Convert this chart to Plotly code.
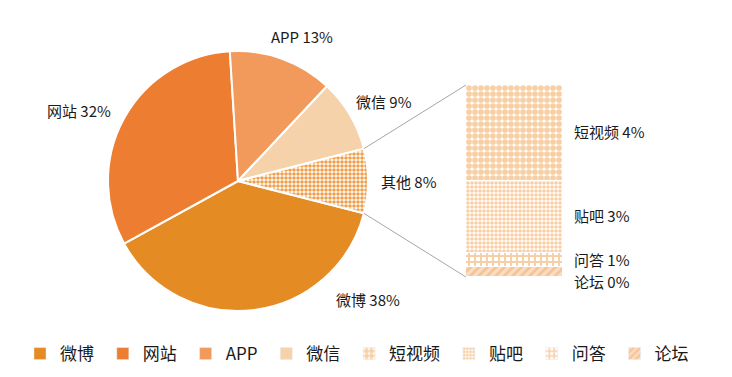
import math
import plotly.graph_objects as go

# ---------------- data ----------------
main_labels = ["微博", "网站", "APP", "微信", "其他"]
main_values = [38, 32, 13, 9, 8]
main_colors = ["#E48B23", "#ED7D31", "#F19A5C", "#F5D2A9"]

sub_labels = ["短视频", "贴吧", "问答", "论坛"]
sub_values = [4.0, 3.0, 0.6, 0.4]

FONT = "Noto Sans CJK SC"
W, H = 732, 377
OFF = 8  # page body margin
PAT = "#EFA04C"


def px2paper(x, y):
    return (x - OFF) / W, 1 - (y - OFF) / H


# ---------------- geometry (reference pixels) ----------------
cx, cy, R = 238, 181, 130
x0p, y1p = px2paper(cx - R, cy - R)
x1p, y0p = px2paper(cx + R, cy + R)
bar_left, bar_right, bar_top, bar_bottom = 466, 563, 85, 277
bx0, by1 = px2paper(bar_left, bar_top)
bx1, by0 = px2paper(bar_right, bar_bottom)

total = sum(main_values)
other_half = main_values[-1] / total * 360 / 2
rotation = 90 + other_half

fig = go.Figure()

fig.add_trace(go.Pie(
    labels=main_labels, values=main_values, sort=False, direction="clockwise",
    rotation=rotation, textinfo="none", hoverinfo="label+percent",
    showlegend=False,
    domain=dict(x=[x0p, x1p], y=[y0p, y1p]),
    marker=dict(colors=main_colors + ["white"],
                line=dict(color="white", width=2),
                pattern=dict(shape=["", "", "", "", "."], fgcolor=PAT,
                             bgcolor="white", size=4, solidity=0.62)),
))

sub_styles = {
    "短视频": dict(shape=".", size=6, solidity=0.72, fgcolor=PAT, bgcolor="white"),
    "贴吧": dict(shape=".", size=4, solidity=0.62, fgcolor=PAT, bgcolor="white"),
    "问答": dict(shape="+", size=6, solidity=0.55, fgcolor=PAT, bgcolor="white"),
    "论坛": dict(shape="/", size=6, solidity=0.45, fgcolor="#F0A860", bgcolor="#FBDCC4"),
}
order = list(range(len(sub_labels)))[::-1]  # bottom to top
for i in order:
    fig.add_trace(go.Bar(
        x=[0], y=[sub_values[i]], name=sub_labels[i], width=1,
        xaxis="x2", yaxis="y2", showlegend=False,
        marker=dict(color="white", line=dict(color="white", width=1.5),
                    pattern=sub_styles[sub_labels[i]]),
        hoverinfo="name+y",
    ))

# legend-only traces
legend_names = main_labels[:4] + sub_labels
legend_markers = [dict(color=c) for c in main_colors] + [
    dict(color="white", pattern=sub_styles[n]) for n in sub_labels]
for n, m in zip(legend_names, legend_markers):
    fig.add_trace(go.Bar(x=[None], y=[None], name=n + "\u00a0", marker=m,
                         xaxis="x3", yaxis="y3", showlegend=True))

# connector lines
a = math.radians(other_half)
p_top = (cx + R * math.cos(a), cy - R * math.sin(a))
p_bot = (cx + R * math.cos(a), cy + R * math.sin(a))
for (px, py), by in [(p_top, bar_top), (p_bot, bar_bottom)]:
    ax0, ay0 = px2paper(px, py)
    ax1, ay1 = px2paper(bar_left, by)
    fig.add_shape(type="line", xref="paper", yref="paper",
                  x0=ax0, y0=ay0, x1=ax1, y1=ay1,
                  line=dict(color="#A6A6A6", width=1))

# pie labels
pie_label_pos = {"微博": (368, 299), "网站": (79, 111), "APP": (302, 37),
                 "微信": (384, 102), "其他": (409, 181)}
for lab, v in zip(main_labels, main_values):
    x, y = px2paper(*pie_label_pos[lab])
    fig.add_annotation(x=x, y=y, xref="paper", yref="paper",
                       xanchor="center", yanchor="middle",
                       text=f"{lab} {round(v / total * 100)}%", showarrow=False,
                       font=dict(size=15, color="#1a1a1a", family=FONT))

# bar labels
cum = 0
mids = {}
for i in order:
    mids[sub_labels[i]] = cum + sub_values[i] / 2
    cum += sub_values[i]
shifts = {"短视频": 2, "贴吧": 2, "问答": 1, "论坛": -9}
for lab, v in zip(sub_labels, sub_values):
    fig.add_annotation(x=0.5, y=mids[lab], xref="x2", yref="y2",
                       text=f"{lab} {round(v)}%", showarrow=False,
                       xanchor="left", yanchor="middle", xshift=9, yshift=shifts[lab],
                       font=dict(size=15, color="#1a1a1a", family=FONT))

fig.update_layout(
    width=W, height=H, margin=dict(l=0, r=0, t=0, b=0),
    paper_bgcolor="white", plot_bgcolor="white",
    barmode="stack", bargap=0,
    font=dict(family=FONT, color="#1a1a1a"),
    xaxis2=dict(domain=[bx0, bx1], range=[-0.5, 0.5], visible=False, fixedrange=True),
    yaxis2=dict(domain=[by0, by1], range=[0, sum(sub_values)], visible=False, fixedrange=True),
    xaxis3=dict(domain=[0, 0.01], visible=False),
    yaxis3=dict(domain=[0, 0.01], visible=False),
    xaxis=dict(visible=False), yaxis=dict(visible=False),
    legend=dict(orientation="h", x=12 / W, y=px2paper(0, 354)[1],
                xanchor="left", yanchor="middle",
                font=dict(size=17, family=FONT, color="#1a1a1a"),
                itemwidth=30, traceorder="normal"),
)

fig.write_html("out.html")
